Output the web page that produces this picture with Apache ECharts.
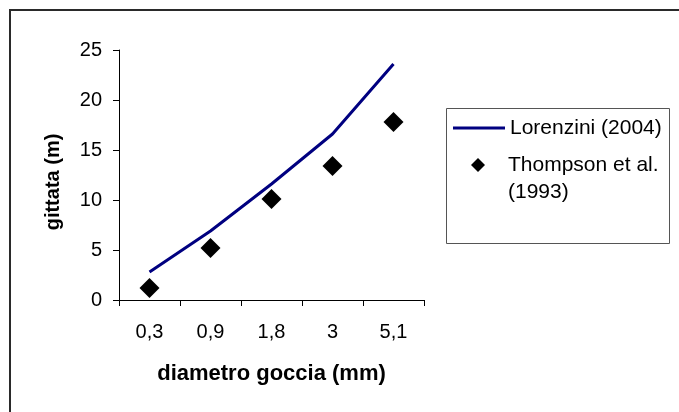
<!DOCTYPE html>
<html>
<head>
<meta charset="utf-8">
<script src="https://cdn.jsdelivr.net/npm/echarts@6/dist/echarts.min.js"></script>
<style>
html,body{margin:0;padding:0;background:#fff;}
#chart{width:679px;height:412px;}
</style>
</head>
<body>
<div id="chart"></div>
<script>
var categories = ['0,3', '0,9', '1,8', '3', '5,1'];
var lorenzini = [2.8, 6.9, 11.6, 16.6, 23.6];
var thompson = [1.2, 5.2, 10.1, 13.4, 17.8];
var yTicks = { min: 0, max: 25, interval: 5 };
var lineName = 'Lorenzini (2004)';
var scatterName = 'Thompson et al. (1993)';
var scatterLegendLines = ['Thompson et al.', '(1993)'];
var xTitle = 'diametro goccia (mm)';
var yTitle = 'gittata (m)';

var FONT = '"Liberation Sans", Arial, sans-serif';
var chart = echarts.init(document.getElementById('chart'), null, {renderer: 'canvas'});
chart.setOption({
  backgroundColor: '#fff',
  animation: false,
  grid: { left: 119, right: 255, top: 50, bottom: 112 },
  xAxis: {
    type: 'category',
    data: categories,
    boundaryGap: true,
    name: xTitle,
    nameLocation: 'middle',
    nameGap: 63,
    nameTextStyle: { fontFamily: FONT, fontSize: 22, fontWeight: 'bold', color: '#000' },
    axisLine: { lineStyle: { color: '#000', width: 1 } },
    axisTick: { show: true, length: 6, alignWithLabel: false, lineStyle: { color: '#000' } },
    axisLabel: { fontFamily: FONT, fontSize: 20, color: '#000', margin: 22 },
    splitLine: { show: false }
  },
  yAxis: {
    type: 'value',
    min: yTicks.min, max: yTicks.max, interval: yTicks.interval,
    name: yTitle,
    nameLocation: 'middle',
    nameGap: 56,
    nameTextStyle: { fontFamily: FONT, fontSize: 20, fontWeight: 'bold', color: '#000', padding: [0, 14, 0, 0] },
    axisLine: { show: true, lineStyle: { color: '#000', width: 1 } },
    axisTick: { show: true, length: 6, lineStyle: { color: '#000' } },
    axisLabel: { fontFamily: FONT, fontSize: 20, color: '#000', margin: 17 },
    splitLine: { show: false }
  },
  legend: [
    {
      data: [{ name: lineName, icon: 'path://M0,0 L52,0 L52,3 L0,3 Z' }],
      left: 453, top: 114.5, padding: 0,
      itemWidth: 52, itemHeight: 3,
      textStyle: { fontFamily: FONT, fontSize: 21, color: '#000', lineHeight: 27 },
      selectedMode: false
    },
    {
      data: [{ name: scatterName, icon: 'diamond' }],
      left: 471, top: 124.5, padding: 0,
      itemWidth: 14, itemHeight: 14,
      formatter: function () {
        return '{t|}\n{t|' + scatterLegendLines[0] + '}\n{t|' + scatterLegendLines[1] + '}';
      },
      textStyle: {
        fontFamily: FONT, fontSize: 21, color: '#000', lineHeight: 27,
        rich: { t: { fontFamily: FONT, fontSize: 21, color: '#000', lineHeight: 27, padding: [0, 0, 0, 18] } }
      },
      selectedMode: false
    }
  ],
  graphic: [
    { type: 'rect', z: -10, silent: true, shape: { x: 10, y: 10, width: 700, height: 450 },
      style: { fill: 'none', stroke: '#2a2a2a', lineWidth: 2 } },
    { type: 'rect', z: -5, silent: true, shape: { x: 446.5, y: 108.5, width: 223, height: 135 },
      style: { fill: '#fff', stroke: '#555', lineWidth: 1 } }
  ],
  series: [
    {
      name: lineName,
      type: 'line',
      data: lorenzini,
      symbol: 'none',
      lineStyle: { color: '#000080', width: 3 },
      itemStyle: { color: '#000080' },
      z: 2
    },
    {
      name: scatterName,
      type: 'scatter',
      data: thompson,
      symbol: 'diamond',
      symbolSize: [20, 20],
      itemStyle: { color: '#000', opacity: 1 },
      z: 3
    }
  ]
});
</script>
</body>
</html>
